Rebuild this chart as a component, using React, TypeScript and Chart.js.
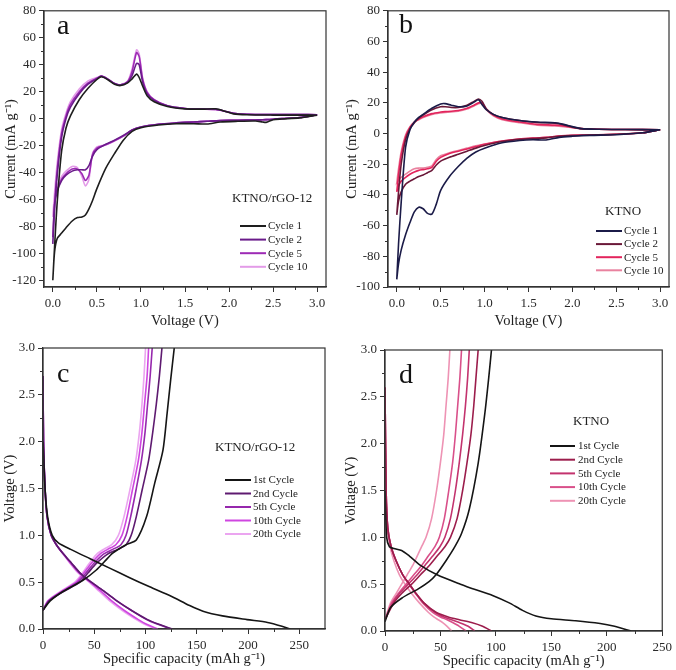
import { useEffect, useRef } from "react";
import { Chart, registerables } from "chart.js";
Chart.register(...registerables);

const FONT = "'Liberation Serif', 'Times New Roman', Times, serif";

// ---------- Panel a : CV, KTNO/rGO-12 ----------
const aDownV = [3.0, 2.8, 2.6, 2.5, 2.42, 2.38, 2.3, 2.1, 1.9, 1.75, 1.6, 1.4, 1.2, 1.0, 0.9, 0.8, 0.7, 0.6, 0.5, 0.45, 0.41, 0.37, 0.33, 0.28, 0.22, 0.15, 0.1, 0.05, 0.02, 0.0];
const aC1Down = [2.5, 0.5, -0.3, -0.8, -2.8, -2.5, -1.8, -2.0, -2.5, -4.0, -3.8, -3.8, -4.8, -6.8, -9.5, -16, -26, -37, -52, -61, -67, -71.5, -73, -73.5, -76, -81, -85, -89, -99, -120];
const aC2Down = [2.8, 0.8, 0, -0.5, -0.8, -0.9, -1.0, -1.2, -1.5, -2.0, -2.5, -3.2, -4.2, -6.2, -8.5, -12.5, -16, -19, -23, -28, -35, -38, -38, -38, -39, -42, -46, -54, -64, -93];
const aC5Down = [2.8, 0.8, 0, -0.5, -0.8, -0.9, -1.0, -1.2, -1.5, -2.0, -2.5, -3.2, -4.2, -6.2, -8.5, -13, -16.5, -19.5, -22, -27, -42, -46, -41, -37.5, -37.5, -41, -45, -53, -63, -88];
const aC10Down = [2.8, 0.8, 0, -0.5, -0.8, -0.9, -1.0, -1.2, -1.5, -2.0, -2.5, -3.2, -4.2, -6.2, -8.5, -13, -16.5, -19.5, -21, -26, -45, -50, -43, -36.5, -35.5, -39, -43, -50, -58, -73];
const aUpV = [0.0, 0.02, 0.05, 0.1, 0.15, 0.2, 0.3, 0.4, 0.5, 0.55, 0.62, 0.7, 0.77, 0.85, 0.9, 0.95, 0.98, 1.02, 1.07, 1.15, 1.3, 1.5, 1.7, 1.85, 1.95, 2.05, 2.2, 2.5, 2.8, 3.0];
const aC1Up = [-120, -95, -62, -24, -7, 2, 14, 22.5, 29, 31, 29, 25.5, 24.5, 26.5, 29.5, 33, 30.5, 24, 17, 12.5, 9, 7.2, 7, 7.3, 5.5, 3.5, 2.8, 2.6, 2.6, 2.5];
const aC2Up = [-93, -68, -42, -14, 0, 8.5, 18.5, 25.5, 29.5, 31.5, 29.5, 26, 25, 27, 32, 41, 40, 27, 18.5, 13.5, 9.5, 7.5, 7, 7, 5.5, 4, 3.2, 3, 3, 2.8];
const aC5Up = [-88, -64, -38, -11, 2, 10.5, 20, 26.5, 30, 31.5, 29.5, 26, 25, 27.5, 35, 49, 46, 29, 19.5, 14, 9.5, 7.5, 7, 6.8, 5.5, 4, 3.2, 3, 3, 2.8];
const aC10Up = [-73, -55, -33, -8, 4, 12.5, 22, 28, 30.5, 31.5, 29.5, 26, 25, 28, 37, 51, 48, 30, 20, 14, 9.5, 7.5, 7, 6.5, 5.5, 4, 3.2, 3, 3, 2.8];

// ---------- Panel b : CV, KTNO ----------
const bDownV = [3.0, 2.8, 2.5, 2.2, 2.0, 1.85, 1.7, 1.55, 1.4, 1.2, 1.0, 0.9, 0.8, 0.7, 0.6, 0.5, 0.45, 0.4, 0.35, 0.3, 0.25, 0.2, 0.15, 0.1, 0.05, 0.02, 0.0];
const bC1Down = [2.5, 0.5, -0.8, -1.2, -1.8, -2.5, -4.2, -4.0, -4.5, -6, -9.5, -12, -16, -21.5, -28, -37, -46, -52.5, -52, -49, -48, -51, -58, -66, -76, -85, -95];
const bC2Down = [2.5, 0.5, -0.5, -1.0, -1.3, -1.8, -2.8, -3.2, -3.8, -5.2, -7.8, -9.5, -11.5, -13.5, -15.5, -18, -20.5, -24, -25.5, -27, -28, -29.5, -31, -33, -38, -44, -53];
const bC5Down = [2.5, 0.5, -0.5, -0.9, -1.2, -1.6, -2.5, -3.0, -3.5, -4.8, -7, -8.5, -10, -11.5, -13, -15.5, -18, -22, -23, -23.5, -24, -25, -26.5, -28.5, -31, -34, -38];
const bC10Down = [2.5, 0.5, -0.5, -0.9, -1.2, -1.6, -2.5, -3.0, -3.5, -4.8, -6.8, -8, -9.5, -11, -12.5, -14.5, -17, -21, -22, -22.5, -22.5, -23, -24.5, -26.5, -28.5, -30.5, -32];
const bUpV = [0.0, 0.02, 0.05, 0.1, 0.15, 0.2, 0.25, 0.3, 0.4, 0.5, 0.55, 0.62, 0.7, 0.8, 0.88, 0.93, 0.97, 1.02, 1.1, 1.2, 1.4, 1.6, 1.8, 1.9, 2.0, 2.1, 2.3, 2.6, 3.0];
const bC1Up = [-95, -72, -45, -9, 2.5, 7.5, 10.5, 12.5, 16.5, 19.3, 19.5, 18.5, 17.5, 18, 20.5, 22, 19, 15.5, 12.5, 10.5, 8.5, 7.5, 7, 6, 4.5, 3.2, 2.8, 2.6, 2.5];
const bC2Up = [-53, -38, -20, -4, 3, 7, 10, 12, 15.5, 17.5, 17.5, 17, 17, 18.5, 21, 22.5, 21, 16, 12.5, 10.5, 8.5, 7.2, 6.8, 5.8, 4.2, 3.2, 2.8, 2.6, 2.5];
const bC5Up = [-38, -27, -14, -2, 4, 7.5, 9.5, 11, 13, 14, 14.3, 14.5, 15, 16.5, 18.5, 20, 20, 16, 12, 9.5, 7.5, 6, 5.5, 5, 4, 3.2, 2.8, 2.6, 2.5];
const bC10Up = [-32, -23, -12, -1, 4.5, 7.5, 9, 10.5, 12.5, 13.5, 13.8, 14, 14.5, 16, 18, 19.5, 19.5, 15.5, 11.5, 9, 7, 5.5, 5, 4.5, 3.8, 3.2, 2.8, 2.6, 2.5];

// ---------- Panel c : charge/discharge, KTNO/rGO-12 ----------
const c1DisV = [2.0, 1.5, 1.2, 1.0, 0.92, 0.85, 0.75, 0.65, 0.55, 0.45, 0.35, 0.25, 0.19, 0.14, 0.1, 0.07, 0.03, 0.0];
const c1DisQ = [0, 2, 4.5, 9, 15, 27, 46, 65, 84, 104, 125, 143, 156, 175, 199, 219, 233, 241];
const c1ChgV = [0.2, 0.3, 0.4, 0.52, 0.63, 0.72, 0.81, 0.9, 0.95, 1.2, 1.56, 1.91, 2.3, 2.66, 3.0];
const c1ChgQ = [0, 7, 19.5, 39, 52, 60, 68, 81, 91, 101, 109, 117, 121, 124.5, 128];
const cDisV = [2.7, 2.0, 1.5, 1.2, 1.0, 0.9, 0.8, 0.7, 0.6, 0.5, 0.4, 0.3, 0.2, 0.1, 0.05, 0.0];
const c2DisQ = [0, 0.5, 2, 4, 8, 13, 20, 28, 36, 47, 60, 72, 86, 102, 113, 126];
const c5DisQ = [0, 0.5, 2, 4, 8, 13, 20, 28, 36, 47, 60, 72, 86, 101, 112, 125];
const c10DisQ = [0, 0.5, 2, 4, 8, 13, 20, 27, 35, 46, 57, 67, 79, 93, 101, 112];
const c20DisQ = [0, 0.5, 2, 4, 8, 13, 19.5, 26.5, 34, 45, 55, 65, 77, 91, 99, 110];
const cChgV = [0.2, 0.3, 0.4, 0.5, 0.6, 0.7, 0.8, 0.85, 0.9, 1.0, 1.2, 1.5, 1.8, 2.1, 2.4, 2.7, 3.0];
const c2ChgQ = [0, 6, 20, 36, 44, 52, 63, 73, 81, 86, 91, 97, 103, 107, 110.5, 113.5, 116];
const c5ChgQ = [0, 5.5, 19, 34, 42, 49.5, 59, 68, 76, 81, 85.5, 91, 96, 99.5, 102, 104.5, 106.5];
const c10ChgQ = [0, 5, 18, 32.5, 40, 47, 55.5, 63, 71, 77, 82, 87.5, 93, 96.5, 99, 101.5, 103];
const c20ChgQ = [0, 4.5, 17, 31, 38.5, 45, 52.5, 59, 67, 73.5, 79, 85, 90.5, 94, 96.5, 98.5, 100];

// ---------- Panel d : charge/discharge, KTNO ----------
const d1DisV = [1.5, 1.0, 0.9, 0.88, 0.86, 0.8, 0.7, 0.6, 0.5, 0.44, 0.38, 0.3, 0.22, 0.16, 0.13, 0.11, 0.08, 0.05, 0.0];
const d1DisQ = [0, 1.5, 4, 8, 15, 22, 32, 47, 68, 82, 97, 112, 124, 136, 150, 172, 194, 207, 222];
const d1ChgV = [0.1, 0.25, 0.35, 0.45, 0.53, 0.6, 0.75, 0.9, 1.04, 1.3, 1.79, 2.32, 2.7, 3.0];
const d1ChgQ = [0, 5, 15, 30, 40, 46, 55, 63, 69, 76, 84, 90, 93.5, 96];
const dDisV = [2.6, 1.5, 1.1, 0.9, 0.75, 0.6, 0.5, 0.4, 0.3, 0.2, 0.15, 0.12, 0.09, 0.05, 0.0];
const d2DisQ = [0, 1, 2.5, 5.5, 10, 16, 22, 28, 35, 46, 57, 67, 78, 88, 96];
const d5DisQ = [0, 1, 2.5, 5.5, 10, 16, 22, 28, 35, 45, 53, 60, 67, 75, 81];
const d10DisQ = [0, 1, 2.5, 5.5, 10, 16, 21.5, 27.5, 34, 43, 50, 56, 61, 67, 73];
const d20DisQ = [0, 0.8, 2, 4.5, 8, 13, 18, 24, 31, 39, 44, 48, 52, 56, 60];
const dChgV = [0.12, 0.3, 0.4, 0.5, 0.6, 0.7, 0.8, 0.9, 1.0, 1.2, 1.5, 1.8, 2.1, 2.4, 2.7, 3.0];
const d2ChgQ = [0, 8, 15, 24, 32, 40, 47, 54, 59, 65, 70, 74, 77.5, 80, 82, 84];
const d5ChgQ = [0, 7, 13, 21, 29, 36, 43, 49.5, 54, 59, 63.5, 67, 70, 72.5, 74.5, 76];
const d10ChgQ = [0, 6, 12, 19, 26, 33, 39, 45, 49, 53.5, 57.5, 61, 63.5, 65.5, 67.5, 69];
const d20ChgQ = [0, 5, 10, 15, 20, 25, 29, 33, 37, 42, 46.5, 50, 53, 55, 57, 58.5];

// ---------- ticks & labels ----------
const cvVoltTicks = [0, 0.5, 1.0, 1.5, 2.0, 2.5, 3.0];
const aCurrentTicks = [-120, -100, -80, -60, -40, -20, 0, 20, 40, 60, 80];
const bCurrentTicks = [-100, -80, -60, -40, -20, 0, 20, 40, 60, 80];
const gcdVoltTicks = [0, 0.5, 1.0, 1.5, 2.0, 2.5, 3.0];
const capTicks = [0, 50, 100, 150, 200, 250];
const cvLabels = ["Cycle 1", "Cycle 2", "Cycle 5", "Cycle 10"];
const gcdLabels = ["1st Cycle", "2nd Cycle", "5th Cycle", "10th Cycle", "20th Cycle"];

const aColors = ["#1e1e1e", "#6a1b8a", "#9d2ab5", "#e39be8"];
const bColors = ["#1b1b48", "#6a1838", "#e3245c", "#e9829f"];
const cColors = ["#151515", "#5e1a70", "#9628ad", "#cf46e0", "#eba5f0"];
const dColors = ["#151515", "#9c1d4c", "#c3336e", "#d9508a", "#ee93b4"];

type P = { x: number; y: number };
const zip = (xs: number[], ys: number[]): P[] => xs.map((x, i) => ({ x, y: ys[i] }));
const loop = (dv: number[], di: number[], uv: number[], ui: number[]) => [...zip(dv, di), ...zip(uv, ui)];

const mids = (t: number[]) => t.slice(0, -1).map((v, i) => (v + t[i + 1]) / 2);

type Spec = {
  box: { left: number; top: number; w: number; h: number };
  plot: { l: number; t: number; r: number; b: number };
  x: { min: number; max: number; ticks: number[]; fmt: (v: number) => string; title: string; pad: number };
  y: { min: number; max: number; ticks: number[]; fmt: (v: number) => string; title: string; pad: number };
  lines: { data: P[]; color: string }[];
  legend: { labels: string[]; colors: string[]; x0: number; x1: number; tx: number; y0: number; dy: number };
  letter: { text: string; x: number; y: number };
  header: { text: string; x: number; y: number };
};

const fx1 = (v: number) => v.toFixed(1);
const fint = (v: number) => String(v);

const specs: Spec[] = [
  {
    box: { left: 0, top: 0, w: 338, h: 330 },
    plot: { l: 44, t: 6, r: 326, b: 287 },
    x: { min: -0.1, max: 3.1, ticks: cvVoltTicks, fmt: fx1, title: "Voltage (V)", pad: 0 },
    y: { min: -125, max: 80, ticks: aCurrentTicks, fmt: fint, title: "Current (mA g\u207B\u00B9)", pad: 2 },
    lines: [
      { data: loop(aDownV, aC1Down, aUpV, aC1Up), color: aColors[0] },
      { data: loop(aDownV, aC2Down, aUpV, aC2Up), color: aColors[1] },
      { data: loop(aDownV, aC5Down, aUpV, aC5Up), color: aColors[2] },
      { data: loop(aDownV, aC10Down, aUpV, aC10Up), color: aColors[3] },
    ],
    legend: { labels: cvLabels, colors: aColors, x0: 240, x1: 266, tx: 268, y0: 226, dy: 13.6 },
    letter: { text: "a", x: 57, y: 34 },
    header: { text: "KTNO/rGO-12", x: 232, y: 199 },
  },
  {
    box: { left: 338, top: 0, w: 338, h: 330 },
    plot: { l: 50, t: 7, r: 331, b: 287 },
    x: { min: -0.1, max: 3.1, ticks: cvVoltTicks, fmt: fx1, title: "Voltage (V)", pad: 0 },
    y: { min: -100, max: 80, ticks: bCurrentTicks, fmt: fint, title: "Current (mA g\u207B\u00B9)", pad: 5 },
    lines: [
      { data: loop(bDownV, bC1Down, bUpV, bC1Up), color: bColors[0] },
      { data: loop(bDownV, bC2Down, bUpV, bC2Up), color: bColors[1] },
      { data: loop(bDownV, bC5Down, bUpV, bC5Up), color: bColors[2] },
      { data: loop(bDownV, bC10Down, bUpV, bC10Up), color: bColors[3] },
    ],
    legend: { labels: cvLabels, colors: bColors, x0: 258, x1: 284, tx: 286, y0: 231, dy: 13.1 },
    letter: { text: "b", x: 61, y: 33 },
    header: { text: "KTNO", x: 267, y: 212 },
  },
  {
    box: { left: 0, top: 335, w: 338, h: 335 },
    plot: { l: 43, t: 13, r: 325, b: 294 },
    x: { min: 0, max: 275, ticks: capTicks, fmt: fint, title: "Specific capacity (mAh g\u207B\u00B9)", pad: 2 },
    y: { min: 0, max: 3, ticks: gcdVoltTicks, fmt: fx1, title: "Voltage (V)", pad: 1 },
    lines: [
      { data: zip(c1DisQ, c1DisV), color: cColors[0] },
      { data: zip(c1ChgQ, c1ChgV), color: cColors[0] },
      { data: zip(c2DisQ, cDisV), color: cColors[1] },
      { data: zip(c2ChgQ, cChgV), color: cColors[1] },
      { data: zip(c5DisQ, cDisV), color: cColors[2] },
      { data: zip(c5ChgQ, cChgV), color: cColors[2] },
      { data: zip(c10DisQ, cDisV), color: cColors[3] },
      { data: zip(c10ChgQ, cChgV), color: cColors[3] },
      { data: zip(c20DisQ, cDisV), color: cColors[4] },
      { data: zip(c20ChgQ, cChgV), color: cColors[4] },
    ],
    legend: { labels: gcdLabels, colors: cColors, x0: 225, x1: 251, tx: 253, y0: 145, dy: 13.5 },
    letter: { text: "c", x: 57, y: 47 },
    header: { text: "KTNO/rGO-12", x: 215, y: 113 },
  },
  {
    box: { left: 338, top: 335, w: 338, h: 335 },
    plot: { l: 47, t: 15, r: 328, b: 296 },
    x: { min: 0, max: 250, ticks: capTicks, fmt: fint, title: "Specific capacity (mAh g\u207B\u00B9)", pad: 0 },
    y: { min: 0, max: 3, ticks: gcdVoltTicks, fmt: fx1, title: "Voltage (V)", pad: 4 },
    lines: [
      { data: zip(d1DisQ, d1DisV), color: dColors[0] },
      { data: zip(d1ChgQ, d1ChgV), color: dColors[0] },
      { data: zip(d2DisQ, dDisV), color: dColors[1] },
      { data: zip(d2ChgQ, dChgV), color: dColors[1] },
      { data: zip(d5DisQ, dDisV), color: dColors[2] },
      { data: zip(d5ChgQ, dChgV), color: dColors[2] },
      { data: zip(d10DisQ, dDisV), color: dColors[3] },
      { data: zip(d10ChgQ, dChgV), color: dColors[3] },
      { data: zip(d20DisQ, dDisV), color: dColors[4] },
      { data: zip(d20ChgQ, dChgV), color: dColors[4] },
    ],
    legend: { labels: gcdLabels, colors: dColors, x0: 212, x1: 237, tx: 240, y0: 111, dy: 13.7 },
    letter: { text: "d", x: 61, y: 48 },
    header: { text: "KTNO", x: 235, y: 87 },
  },
];

function decor(s: Spec) {
  return {
    id: "decor" + s.letter.text,
    afterDraw(chart: any) {
      const ctx = chart.ctx as CanvasRenderingContext2D;
      const { left, right, top, bottom } = chart.chartArea;
      const xs = chart.scales.x;
      const ys = chart.scales.y;
      ctx.save();
      ctx.strokeStyle = "#333";
      ctx.lineWidth = 1.2;
      ctx.strokeRect(left, top, right - left, bottom - top);
      ctx.lineWidth = 1;
      mids(s.x.ticks).forEach((v) => {
        const p = Math.round(xs.getPixelForValue(v)) + 0.5;
        ctx.beginPath();
        ctx.moveTo(p, bottom);
        ctx.lineTo(p, bottom + 3);
        ctx.stroke();
      });
      mids(s.y.ticks).forEach((v) => {
        const p = Math.round(ys.getPixelForValue(v)) + 0.5;
        ctx.beginPath();
        ctx.moveTo(left, p);
        ctx.lineTo(left - 3, p);
        ctx.stroke();
      });
      ctx.fillStyle = "#111";
      ctx.textAlign = "left";
      ctx.textBaseline = "alphabetic";
      ctx.font = `28px ${FONT}`;
      ctx.fillText(s.letter.text, s.letter.x, s.letter.y);
      ctx.textBaseline = "middle";
      ctx.font = `13px ${FONT}`;
      ctx.fillStyle = "#222";
      ctx.fillText(s.header.text, s.header.x, s.header.y);
      const lg = s.legend;
      ctx.font = `11px ${FONT}`;
      lg.labels.forEach((lab, i) => {
        const y = lg.y0 + i * lg.dy;
        ctx.strokeStyle = lg.colors[i];
        ctx.lineWidth = 2;
        ctx.beginPath();
        ctx.moveTo(lg.x0, y);
        ctx.lineTo(lg.x1, y);
        ctx.stroke();
        ctx.fillStyle = "#222";
        ctx.fillText(lab, lg.tx, y + 0.5);
      });
      ctx.restore();
    },
  };
}

function axis(a: Spec["x"], isX: boolean, s: Spec) {
  return {
    type: "linear" as const,
    position: isX ? ("bottom" as const) : ("left" as const),
    min: a.min,
    max: a.max,
    afterBuildTicks: (sc: any) => {
      sc.ticks = a.ticks.map((v) => ({ value: v }));
    },
    afterFit: (sc: any) => {
      if (isX) sc.height = s.box.h - s.plot.b;
      else sc.width = s.plot.l;
    },
    ticks: {
      callback: (v: any) => a.fmt(Number(v)),
      font: { family: FONT, size: 13 },
      color: "#2a2a2a",
      padding: isX ? 4 : 3,
      maxRotation: 0,
      autoSkip: false,
    },
    grid: { drawOnChartArea: false, drawTicks: true, tickLength: 5, tickColor: "#333", color: "#333" },
    border: { display: true, color: "#333", width: 1.2 },
    title: {
      display: true,
      text: a.title,
      font: { family: FONT, size: 14.5 },
      color: "#222",
      padding: isX ? { top: 0, bottom: a.pad } : { top: a.pad, bottom: 0 },
    },
  };
}

function Panel({ s }: { s: Spec }) {
  const ref = useRef<HTMLCanvasElement>(null);
  useEffect(() => {
    const chart = new Chart(ref.current!, {
      type: "scatter",
      data: {
        datasets: s.lines.map((l) => ({
          data: l.data,
          borderColor: l.color,
          backgroundColor: l.color,
          borderWidth: 1.6,
          showLine: true,
          pointRadius: 0,
          tension: 0.25,
          fill: false,
        })),
      },
      options: {
        responsive: false,
        animation: false,
        layout: { padding: { top: s.plot.t, right: s.box.w - s.plot.r, left: 0, bottom: 0 } },
        plugins: { legend: { display: false }, tooltip: { enabled: false } },
        scales: { x: axis(s.x, true, s), y: axis(s.y, false, s) } as any,
      },
      plugins: [decor(s)],
    });
    return () => chart.destroy();
  }, []);
  return (
    <canvas
      ref={ref}
      width={s.box.w}
      height={s.box.h}
      style={{ position: "absolute", left: s.box.left, top: s.box.top, width: s.box.w, height: s.box.h }}
    />
  );
}

export default function App() {
  return (
    <div style={{ position: "absolute", left: 0, top: 0, width: 676, height: 670, background: "#fff" }}>
      {specs.map((s) => (
        <Panel key={s.letter.text} s={s} />
      ))}
    </div>
  );
}
